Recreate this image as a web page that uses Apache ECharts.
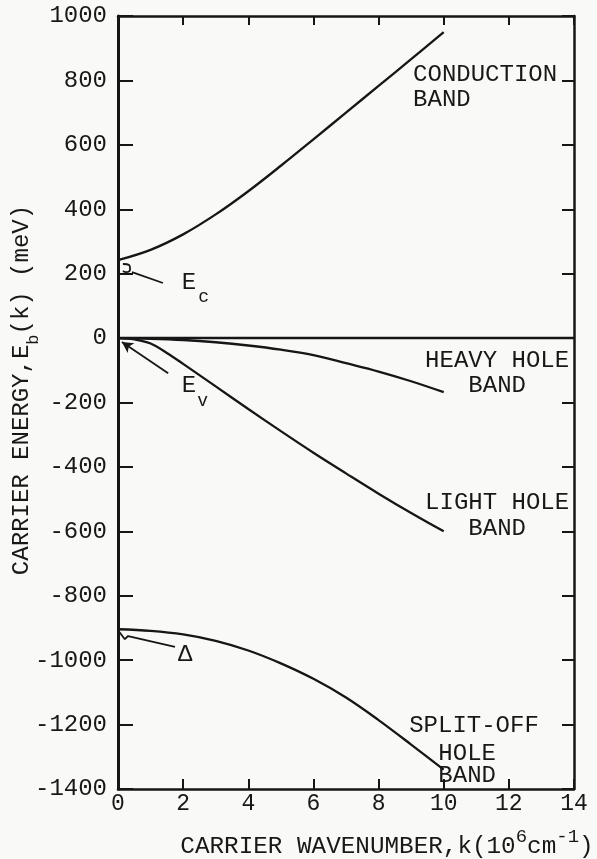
<!DOCTYPE html>
<html>
<head>
<meta charset="utf-8">
<script src="https://cdn.jsdelivr.net/npm/echarts@6/dist/echarts.min.js"></script>
<style>
  html, body { margin: 0; padding: 0; background: #f9f9f7; }
  #chart { width: 597px; height: 859px; }
</style>
</head>
<body>
<div id="chart"></div>
<script>
// Wavenumber k (10^6 cm^-1) and carrier energy (meV) for each band
const conductionBand = [[0,242],[1,274],[2,322],[3,384],[4,456],[5,535],[6,617],[7,700],[8,783],[9,866],[10,950]];
const heavyHoleBand  = [[0,0],[1,-2],[2,-6],[3,-13],[4,-23],[5,-36],[6,-53],[7,-78],[8,-104],[9,-134],[10,-168]];
const lightHoleBand  = [[0,0],[0.5,-4],[1,-17],[1.5,-46],[2,-80],[3,-150],[4,-220],[5,-289],[6,-356],[7,-420],[8,-483],[9,-543],[10,-600]];
const splitOffBand   = [[0,-904],[1,-909],[2,-920],[3,-940],[4,-970],[5,-1010],[6,-1058],[7,-1116],[8,-1186],[9,-1262],[10,-1340]];

// Axis ranges and tick steps
const kRange = [0, 14];
const kStep = 2;
const energyRange = [-1400, 1000];
const energyStep = 200;

// Pointer strokes for the E_c, E_v and Δ callouts (data coordinates)
const ecCurl   = [[0.15,230],[0.34,227],[0.37,214],[0.25,205],[0.15,208]];
const ecLeader = [[0.43,205],[1.38,171]];
const evLeader = [[1.54,-109],[0.12,-12]];
const deltaLeader = [[0,-907],[0.21,-935],[0.31,-925],[1.75,-959]];

// Text labels: [text, k, energy, horizontal align, font size]
const bandLabels = [
  ['CONDUCTION', 9.06, 817, 'left', 24],
  ['BAND', 9.06, 739, 'left', 24],
  ['HEAVY HOLE', 11.64, -71, 'center', 24],
  ['BAND', 11.64, -149, 'center', 24],
  ['LIGHT HOLE', 11.64, -512, 'center', 24],
  ['BAND', 11.64, -593, 'center', 24],
  ['SPLIT-OFF', 10.93, -1202, 'center', 24],
  ['HOLE', 10.72, -1289, 'center', 24],
  ['BAND', 10.72, -1360, 'center', 24],
  ['E', 1.96, 171, 'left', 24],
  ['c', 2.46, 127, 'left', 18],
  ['E', 1.96, -149, 'left', 24],
  ['v', 2.43, -196, 'left', 18],
  ['Δ', 1.84, -984, 'left', 24]
];

const FONT = '"Liberation Mono", "DejaVu Sans Mono", monospace';
const INK = '#161616';
const TEXT = '#181818';

const chart = echarts.init(document.getElementById('chart'), null, { renderer: 'canvas' });

function axisBase(extra) {
  return Object.assign({
    type: 'value',
    splitLine: { show: false },
    axisLine: { show: true, onZero: false, lineStyle: { color: INK, width: 2.5 } },
    axisTick: { show: true, inside: true, lineStyle: { color: INK, width: 2 } },
    axisLabel: { show: false }
  }, extra);
}

function curve(data, extra) {
  return Object.assign({
    type: 'line',
    data: data,
    smooth: 0.35,
    showSymbol: false,
    symbol: 'none',
    silent: true,
    lineStyle: { color: INK, width: 2.3 }
  }, extra || {});
}

function stroke(data, smooth) {
  return {
    type: 'line',
    data: data,
    smooth: smooth ? 0.5 : false,
    symbol: 'none',
    silent: true,
    lineStyle: { color: INK, width: 1.8 }
  };
}

const plainNumber = function (v) { return String(v); };

chart.setOption({
  animation: false,
  backgroundColor: '#f9f9f7',
  grid: { left: 118, right: 23, top: 16, bottom: 70 },
  xAxis: [
    axisBase({
      min: kRange[0], max: kRange[1], interval: kStep, position: 'bottom',
      axisTick: { show: true, inside: true, length: 10, lineStyle: { color: INK, width: 2 } },
      axisLabel: { show: true, fontFamily: FONT, fontSize: 23, color: TEXT, margin: 3, formatter: plainNumber }
    }),
    axisBase({
      min: kRange[0], max: kRange[1], interval: kStep, position: 'top',
      axisTick: { show: true, inside: true, length: 9, lineStyle: { color: INK, width: 2 } }
    })
  ],
  yAxis: [
    axisBase({
      min: energyRange[0], max: energyRange[1], interval: energyStep, position: 'left',
      axisLine: { show: true, onZero: false, lineStyle: { color: INK, width: 3 } },
      axisTick: { show: true, inside: true, length: 15, lineStyle: { color: INK, width: 2 } },
      axisLabel: { show: true, fontFamily: FONT, fontSize: 24, color: TEXT, margin: 11, formatter: plainNumber }
    }),
    axisBase({
      min: energyRange[0], max: energyRange[1], interval: energyStep, position: 'right',
      axisTick: { show: true, inside: true, length: 12, lineStyle: { color: INK, width: 2 } }
    })
  ],
  series: [
    curve(conductionBand),
    curve(heavyHoleBand, {
      markLine: {
        silent: true,
        symbol: 'none',
        label: { show: false },
        lineStyle: { color: INK, width: 2.3, type: 'solid' },
        data: [{ yAxis: 0 }]
      }
    }),
    curve(lightHoleBand),
    curve(splitOffBand),
    stroke(ecCurl, true),
    stroke(ecLeader, false),
    {
      type: 'line',
      data: [],
      symbol: 'none',
      markLine: {
        silent: true,
        symbol: ['none', 'arrow'],
        symbolSize: [9, 11],
        label: { show: false },
        lineStyle: { color: INK, width: 1.8, type: 'solid' },
        data: [[{ coord: evLeader[0] }, { coord: evLeader[1] }]]
      }
    },
    stroke(deltaLeader, false)
  ]
});

// Place the text labels from their data positions
const labelGraphics = bandLabels.map(function (lb) {
  const p = chart.convertToPixel({ xAxisIndex: 0, yAxisIndex: 0 }, [lb[1], lb[2]]);
  return {
    type: 'text',
    x: p[0], y: p[1],
    silent: true,
    style: {
      text: lb[0],
      font: lb[4] + 'px ' + FONT,
      fill: TEXT,
      align: lb[3],
      verticalAlign: 'middle'
    }
  };
});

const axisTitles = [
  {
    type: 'text',
    x: 387, y: 843,
    silent: true,
    style: {
      text: '{a|CARRIER WAVENUMBER,k(10}{s|6}{a|cm}{s|-1}{a|)}',
      align: 'center',
      verticalAlign: 'middle',
      fill: TEXT,
      rich: {
        a: { fontFamily: FONT, fontSize: 24.3, lineHeight: 32, verticalAlign: 'bottom', fill: TEXT },
        s: { fontFamily: FONT, fontSize: 19, lineHeight: 32, verticalAlign: 'top', fill: TEXT }
      }
    }
  },
  {
    type: 'text',
    x: 26, y: 390,
    rotation: Math.PI / 2,
    silent: true,
    style: {
      text: '{a|CARRIER ENERGY,E}{b|b}{a|(k) (meV)}',
      align: 'center',
      verticalAlign: 'middle',
      fill: TEXT,
      rich: {
        a: { fontFamily: FONT, fontSize: 24, lineHeight: 32, verticalAlign: 'top', fill: TEXT },
        b: { fontFamily: FONT, fontSize: 17, lineHeight: 32, verticalAlign: 'bottom', fill: TEXT }
      }
    }
  }
];

chart.setOption({ graphic: labelGraphics.concat(axisTitles) });
</script>
</body>
</html>
